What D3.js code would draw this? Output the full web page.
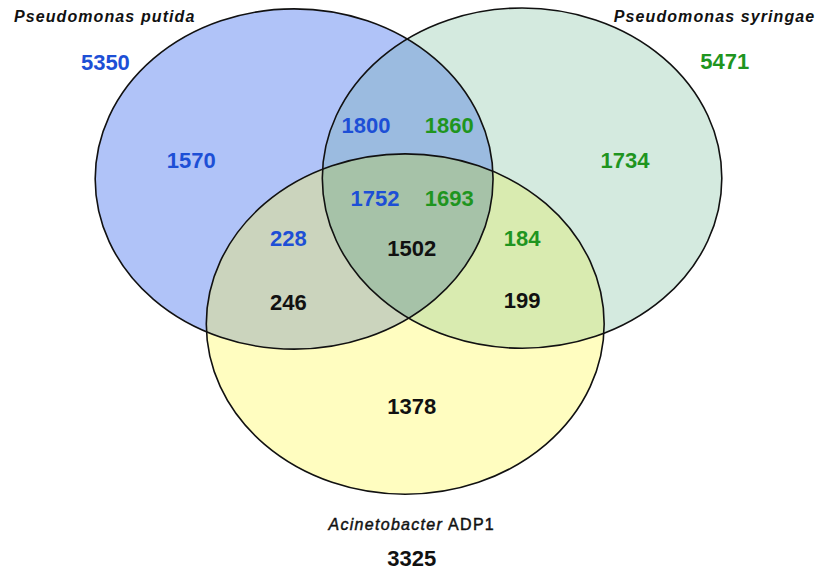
<!DOCTYPE html>
<html>
<head>
<meta charset="utf-8">
<script src="https://cdn.jsdelivr.net/npm/d3@7"></script>
<style>
  html, body { margin: 0; padding: 0; background: #fff; }
  svg { display: block; }
  text { font-family: Arial, "Liberation Sans", sans-serif; }
</style>
</head>
<body>
<svg id="venn"></svg>
<script>
// set names and total sizes
var setNames = ["Pseudomonas putida", "Pseudomonas syringae", "Acinetobacter"];
var setSuffix = ["", "", " ADP1"];
var setTotals = [5350, 5471, 3325];

// region counts: [key, value, colour group]
var regionKeys = ["A", "B", "C", "AB_A", "AB_B", "ABC_A", "ABC_B", "AC_A", "BC_B", "ABC", "AC", "BC"];
var regionValues = [1570, 1734, 1378, 1800, 1860, 1752, 1693, 228, 184, 1502, 246, 199];
var regionOwner = ["A", "B", "C", "A", "B", "A", "B", "A", "B", "C", "C", "C"];

(function() {
  var width = 817, height = 571,
    svg = d3.select("#venn").attr("width", width).attr("height", height),
    x = d3.scaleLinear().domain([0, 100]).range([0, width]),
    y = d3.scaleLinear().domain([0, 100]).range([0, height]),
    textColor = { A: "#1d4fd6", B: "#1f951f", C: "#111" },
    // ellipse layout in percent of the canvas
    ellipses = {
      A: { cx: 36.0, cy: 31.35, rx: 24.35, ry: 29.8 },
      B: { cx: 63.9, cy: 31.2, rx: 24.45, ry: 29.8 },
      C: { cx: 49.6, cy: 56.75, rx: 24.35, ry: 29.8 }
    },
    fills = {
      A: "#b0c3f8", B: "#d4eadf", C: "#fffdc0",
      AB: "#9bbbe0", AC: "#cbd4bd", BC: "#d9ebb0", ABC: "#a6c2a8"
    },
    labelPos = {
      A: [23.4, 28.0], B: [76.5, 28.0], C: [50.4, 71.1],
      AB_A: [44.8, 21.9], AB_B: [55.0, 21.9],
      ABC_A: [45.9, 34.7], ABC_B: [55.0, 34.7],
      AC_A: [35.3, 41.7], BC_B: [63.9, 41.7],
      ABC: [50.4, 43.4], AC: [35.3, 52.9], BC: [63.9, 52.6]
    },
    defs = svg.append("defs"),
    g = svg.append("g");

  function addEllipse(sel, e) {
    return sel.append("ellipse")
      .attr("cx", x(e.cx)).attr("cy", y(e.cy))
      .attr("rx", x(e.rx)).attr("ry", y(e.ry));
  }

  ["A", "B", "C"].forEach(function(k) {
    addEllipse(defs.append("clipPath").attr("id", "clip" + k), ellipses[k]);
  });
  addEllipse(defs.append("clipPath").attr("id", "clipAB").attr("clip-path", "url(#clipA)"), ellipses.B);

  // single sets
  ["A", "B", "C"].forEach(function(k) {
    addEllipse(g, ellipses[k]).attr("fill", fills[k]);
  });
  // pairwise overlaps
  addEllipse(g.append("g").attr("clip-path", "url(#clipA)"), ellipses.B).attr("fill", fills.AB);
  addEllipse(g.append("g").attr("clip-path", "url(#clipA)"), ellipses.C).attr("fill", fills.AC);
  addEllipse(g.append("g").attr("clip-path", "url(#clipB)"), ellipses.C).attr("fill", fills.BC);
  // triple overlap
  addEllipse(g.append("g").attr("clip-path", "url(#clipAB)"), ellipses.C).attr("fill", fills.ABC);

  // outlines
  ["A", "B", "C"].forEach(function(k) {
    addEllipse(g, ellipses[k]).attr("fill", "none").attr("stroke", "#111").attr("stroke-width", 1.6);
  });

  // region numbers
  g.selectAll(".count")
    .data(regionKeys)
    .enter()
    .append("text")
    .attr("class", "count")
    .attr("x", function(d) { return x(labelPos[d][0]); })
    .attr("y", function(d) { return y(labelPos[d][1]); })
    .attr("dy", "0.35em")
    .attr("text-anchor", "middle")
    .attr("font-size", 22)
    .attr("font-weight", "bold")
    .attr("fill", function(d, i) { return textColor[regionOwner[i]]; })
    .text(function(d, i) { return regionValues[i]; });

  // set titles
  var titlePos = [[1.7, 2.9, "start"], [99.8, 2.9, "end"], [50.4, 91.8, "middle"]],
    totalPos = [[12.9, 10.9], [88.7, 10.7], [50.4, 97.7]],
    totalColor = [textColor.A, textColor.B, "#111"];

  setNames.forEach(function(name, i) {
    var t = g.append("text")
      .attr("x", x(titlePos[i][0]))
      .attr("y", y(titlePos[i][1]))
      .attr("dy", "0.35em")
      .attr("text-anchor", titlePos[i][2])
      .attr("font-size", 16)
      .attr("letter-spacing", i < 2 ? 1.1 : 1.3)
      .attr("font-weight", i < 2 ? "bold" : "normal")
      .attr("fill", "#111")
      .attr("stroke", i < 2 ? "none" : "#111")
      .attr("stroke-width", 0.45);
    t.append("tspan").attr("font-style", "italic").text(name);
    if (setSuffix[i]) t.append("tspan").text(setSuffix[i]);

    g.append("text")
      .attr("x", x(totalPos[i][0]))
      .attr("y", y(totalPos[i][1]))
      .attr("dy", "0.35em")
      .attr("text-anchor", "middle")
      .attr("font-size", 22)
      .attr("font-weight", "bold")
      .attr("fill", totalColor[i])
      .text(setTotals[i]);
  });
})();
</script>
</body>
</html>
